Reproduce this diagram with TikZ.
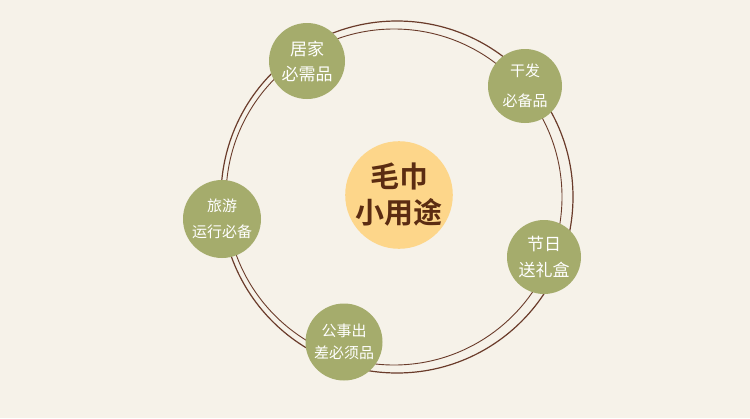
\documentclass[tikz,border=0pt]{standalone}
\usepackage{fontspec}
\newfontfamily\cjk{Noto Sans CJK SC}
\newfontfamily\cjkb{Noto Sans CJK SC Bold}
\definecolor{bg}{HTML}{F6F2E9}
\definecolor{leaf}{HTML}{A5AC6C}
\definecolor{sun}{HTML}{FDD68A}
\definecolor{ink}{HTML}{5B2C12}
\definecolor{ring}{HTML}{6A3B2A}
\tikzset{
  sat/.style={circle, fill=leaf, minimum size=#1, inner sep=0pt, text=white, align=center},
  hub/.style={circle, fill=sun, minimum size=104pt, inner sep=0pt, text=ink, align=center,
    font=\cjkb\fontsize{29}{36}\selectfont},
}
\begin{document}
\begin{tikzpicture}[x=1pt,y=-1pt]
\fill[bg] (0,0) rectangle (750,418);
\useasboundingbox (0,0) rectangle (750,418);
\draw[ring, line width=1.2pt] (397,197) circle[radius=176];
\draw[ring, line width=0.9pt] (394,197) circle[radius=168];
\node[hub] (hub) at (399,195) {毛巾\\小用途};
\node[sat=76pt, font=\cjk\fontsize{17}{25}\selectfont] (home) at (307,61) {居家\\必需品};
\node[sat=74pt, font=\cjk\fontsize{15}{30}\selectfont] (hair) at (525,86) {干发\\必备品};
\node[sat=78pt, font=\cjk\fontsize{15}{26}\selectfont] (trip) at (222,219) {旅游\\运行必备};
\node[sat=74pt, font=\cjk\fontsize{17}{26}\selectfont] (gift) at (544,257) {节日\\送礼盒};
\node[sat=77pt, font=\cjk\fontsize{15}{22}\selectfont] (work) at (344,342) {公事出\\差必须品};
\end{tikzpicture}
\end{document}
